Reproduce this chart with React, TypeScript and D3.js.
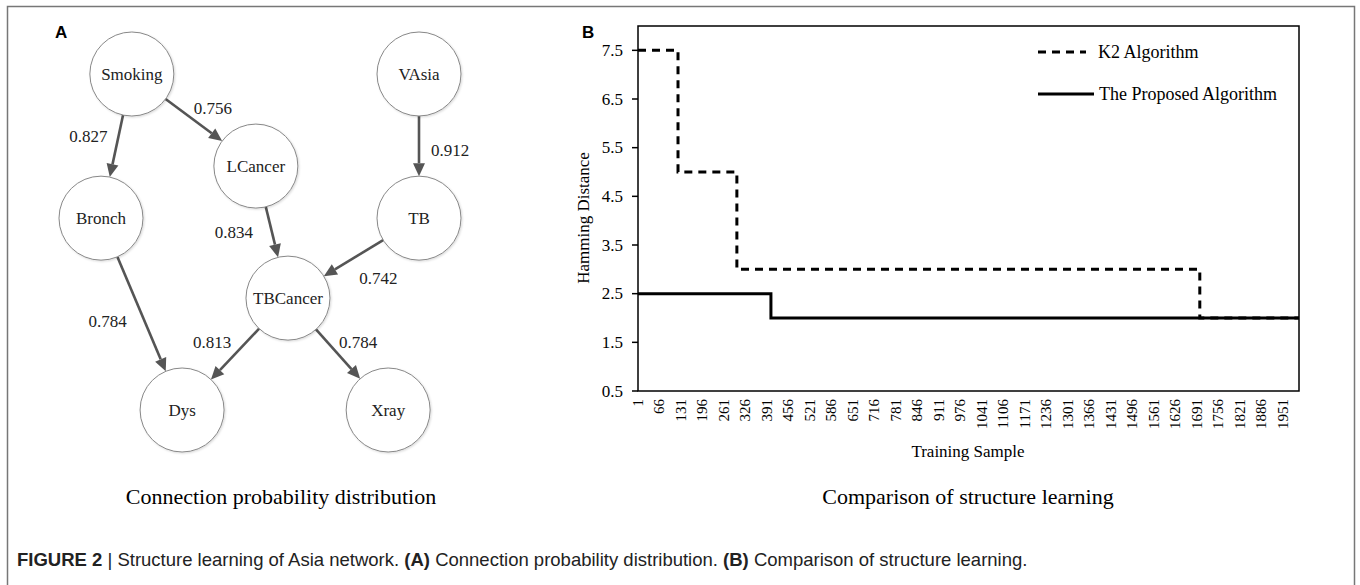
import React from "react";
import * as d3 from "d3";

const W = 1360;
const H = 585;

// ---- panel A: network ----
const nodeNames = ["Smoking", "VAsia", "LCancer", "Bronch", "TB", "TBCancer", "Dys", "Xray"];
// layout in unit grid (0..1), mapped by scales below
const nodeCol = [0.097, 1, 0.487, 0, 1, 0.588, 0.255, 0.903];
const nodeRow = [0, 0, 0.274, 0.429, 0.429, 0.667, 1, 1];

const edgeFrom = ["Smoking", "Smoking", "LCancer", "VAsia", "TB", "Bronch", "TBCancer", "TBCancer"];
const edgeTo = ["Bronch", "LCancer", "TBCancer", "TB", "TBCancer", "Dys", "Dys", "Xray"];
const edgeProb = ["0.827", "0.756", "0.834", "0.912", "0.742", "0.784", "0.813", "0.784"];
const labelDx = [-28, 19, -38, 31, 25, -34, -23, 20];
const labelDy = [-10, -12, 0, 4, 20, 7, -12, -12];

// ---- panel B: hamming distance ----
const sampleTicks = [1, 66, 131, 196, 261, 326, 391, 456, 521, 586, 651, 716, 781, 846, 911, 976,
  1041, 1106, 1171, 1236, 1301, 1366, 1431, 1496, 1561, 1626, 1691, 1756, 1821, 1886, 1951];
const distanceTicks = [0.5, 1.5, 2.5, 3.5, 4.5, 5.5, 6.5, 7.5];
const k2Samples = [1, 122, 300, 1700, 2000];
const k2Distance = [7.5, 5, 3, 2, 2];
const proposedSamples = [1, 403, 2000];
const proposedDistance = [2.5, 2, 2];

const serif = "'Liberation Serif', 'Times New Roman', serif";
const sans = "'Liberation Sans', Arial, sans-serif";

const App = () => {
  // panel A scales
  const xA = d3.scaleLinear().domain([0, 1]).range([101, 419]);
  const yA = d3.scaleLinear().domain([0, 1]).range([74, 410]);
  const R = 42;
  const pos: Record<string, [number, number]> = {};
  nodeNames.forEach((n, i) => (pos[n] = [xA(nodeCol[i]), yA(nodeRow[i])]));

  const edges = edgeFrom.map((f, i) => {
    const [x1, y1] = pos[f];
    const [x2, y2] = pos[edgeTo[i]];
    const len = Math.hypot(x2 - x1, y2 - y1);
    const ux = (x2 - x1) / len, uy = (y2 - y1) / len;
    const sx = x1 + ux * R, sy = y1 + uy * R;
    const tx = x2 - ux * R, ty = y2 - uy * R;
    const head = 13, half = 6;
    const bx = tx - ux * head, by = ty - uy * head;
    const arrow = [
      [tx, ty],
      [bx - uy * half, by + ux * half],
      [bx + uy * half, by - ux * half],
    ];
    return {
      sx, sy, bx, by, arrow,
      lx: (x1 + x2) / 2 + labelDx[i],
      ly: (y1 + y2) / 2 + labelDy[i],
      label: edgeProb[i],
    };
  });

  // panel B scales
  const xB = d3.scaleLinear().domain([1, 2000]).range([638, 1299]);
  const yB = d3.scaleLinear().domain([0.5, 8]).range([391, 26]);
  const line = d3.line<[number, number]>()
    .x(d => xB(d[0]))
    .y(d => yB(d[1]))
    .curve(d3.curveStepAfter);
  const k2Path = line(k2Samples.map((s, i) => [s, k2Distance[i]]));
  const propPath = line(proposedSamples.map((s, i) => [s, proposedDistance[i]]));

  return (
    <div>
      <style>{"body{margin:0}"}</style>
      <svg width={W} height={H} style={{ display: "block", background: "white" }}>
        <defs>
          <filter id="shadow" x="-20%" y="-20%" width="140%" height="140%">
            <feDropShadow dx="1" dy="1" stdDeviation="1" floodColor="#000" floodOpacity="0.15" />
          </filter>
        </defs>
        {/* frame */}
        <path d={`M7.5,585 V6.5 H1354.5 V585`} fill="none" stroke="#777" strokeWidth={1.5} />

        {/* panel A */}
        <text x={55} y={38} fontFamily={sans} fontWeight="bold" fontSize={17}>A</text>
        {edges.map((e, i) => (
          <g key={i}>
            <line x1={e.sx} y1={e.sy} x2={e.bx} y2={e.by} stroke="#555" strokeWidth={2.6} />
            <polygon points={e.arrow.map(p => p.join(",")).join(" ")} fill="#555" />
            <text x={e.lx} y={e.ly} textAnchor="middle" dominantBaseline="central"
              fontFamily={serif} fontSize={17} fill="#222">{e.label}</text>
          </g>
        ))}
        {nodeNames.map(n => (
          <g key={n} transform={`translate(${pos[n][0]},${pos[n][1]})`}>
            <circle r={R} fill="white" stroke="#888" strokeWidth={1} filter="url(#shadow)" />
            <text textAnchor="middle" dominantBaseline="central" fontFamily={serif}
              fontSize={17} fill="#222">{n}</text>
          </g>
        ))}
        <text x={281} y={504} textAnchor="middle" fontFamily={serif} fontSize={22}>
          Connection probability distribution
        </text>

        {/* panel B */}
        <text x={582} y={38} fontFamily={sans} fontWeight="bold" fontSize={17}>B</text>
        <rect x={638} y={26} width={1299 - 638} height={391 - 26} fill="none" stroke="#000" strokeWidth={1.5} />
        {distanceTicks.map(t => (
          <g key={t} transform={`translate(638,${yB(t)})`}>
            <line x1={-6} x2={0} stroke="#000" strokeWidth={1.5} />
            <text x={-15} textAnchor="end" dominantBaseline="central" fontFamily={serif} fontSize={17}>
              {d3.format(".1f")(t)}
            </text>
          </g>
        ))}
        {sampleTicks.map(t => (
          <text key={t} transform={`translate(${xB(t)},399) rotate(-90)`} textAnchor="end"
            dominantBaseline="central" fontFamily={serif} fontSize={15}>{t}</text>
        ))}
        <text transform={`translate(583,218) rotate(-90)`} textAnchor="middle" dominantBaseline="central"
          fontFamily={serif} fontSize={17}>Hamming Distance</text>
        <text x={968} y={457} textAnchor="middle" fontFamily={serif} fontSize={17}>Training Sample</text>
        <path d={k2Path ?? ""} fill="none" stroke="#000" strokeWidth={3} strokeDasharray="8,6" />
        <path d={propPath ?? ""} fill="none" stroke="#000" strokeWidth={3} />
        {/* legend */}
        <line x1={1038} x2={1086} y1={52} y2={52} stroke="#000" strokeWidth={3} strokeDasharray="8,6" />
        <text x={1098} y={52} dominantBaseline="central" fontFamily={serif} fontSize={18}>K2 Algorithm</text>
        <line x1={1038} x2={1094} y1={94} y2={94} stroke="#000" strokeWidth={3} />
        <text x={1099} y={94} dominantBaseline="central" fontFamily={serif} fontSize={18}>The Proposed Algorithm</text>
        <text x={968} y={504} textAnchor="middle" fontFamily={serif} fontSize={22}>
          Comparison of structure learning
        </text>

        {/* figure caption */}
        <text x={17} y={566} fontFamily={sans} fontSize={18.5} fill="#222">
          <tspan fontWeight="bold">FIGURE 2</tspan>
          <tspan> | Structure learning of Asia network. </tspan>
          <tspan fontWeight="bold">(A)</tspan>
          <tspan> Connection probability distribution. </tspan>
          <tspan fontWeight="bold">(B)</tspan>
          <tspan> Comparison of structure learning.</tspan>
        </text>
      </svg>
    </div>
  );
};

export default App;
